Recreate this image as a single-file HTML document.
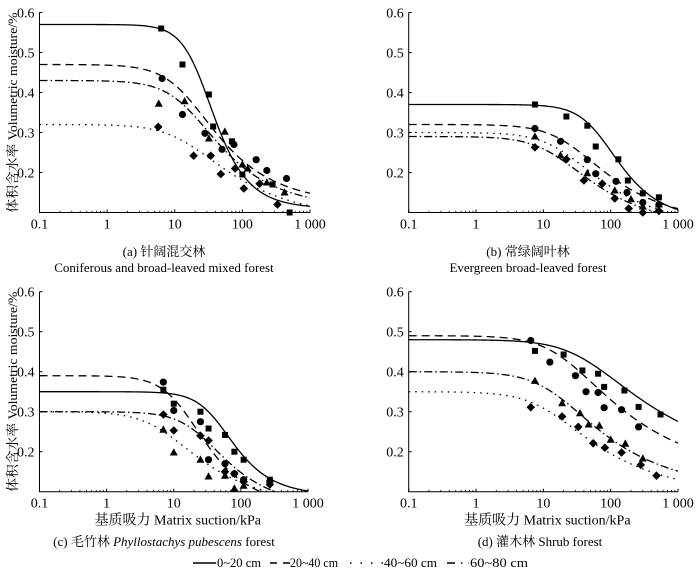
<!DOCTYPE html>
<html><head><meta charset="utf-8">
<style>
html,body{margin:0;padding:0;background:#fff;}
svg{display:block;}
svg text{font-family:"Liberation Serif","Noto Serif CJK SC",serif;}
</style></head>
<body>
<svg id="chart" width="700" height="569" viewBox="0 0 700 569" xmlns="http://www.w3.org/2000/svg">
<g id="panels"></g>
<g font-size="13">
  <line x1="193" y1="563" x2="216" y2="563" stroke="#000" stroke-width="1.4"/>
  <text x="217" y="567" textLength="44" lengthAdjust="spacingAndGlyphs">0~20 cm</text>
  <line x1="270" y1="563" x2="290" y2="563" stroke="#000" stroke-width="1.4" stroke-dasharray="7,6"/>
  <text x="290" y="567" textLength="48" lengthAdjust="spacingAndGlyphs">20~40 cm</text>
  <line x1="350" y1="563" x2="383" y2="563" stroke="#000" stroke-width="1.4" stroke-dasharray="1.5,9"/>
  <text x="384" y="567" textLength="53" lengthAdjust="spacingAndGlyphs">40~60 cm</text>
  <line x1="447" y1="563" x2="469" y2="563" stroke="#000" stroke-width="1.4" stroke-dasharray="8,6,1.5,6"/>
  <text x="470" y="567" textLength="58" lengthAdjust="spacingAndGlyphs">60~80 cm</text>
</g>
</svg>
<script>
// ---- data ----
const xTickValues = [0.1, 1, 10, 100, 1000];
const xTickLabels = ["0.1", "1", "10", "100", "1 000"];
const yTickValues = [0.2, 0.3, 0.4, 0.5, 0.6];
const yTickLabels = ["0.2", "0.3", "0.4", "0.5", "0.6"];
const seriesNames = ["0-20cm", "20-40cm", "40-60cm", "60-80cm"];

// panel a points [suction kPa, moisture]
const aSquares = [[6.3,0.56],[13,0.47],[32,0.395],[37,0.315],[70,0.278],[100,0.195],[280,0.17],[500,0.10]];
const aCircles = [[6.5,0.435],[13,0.345],[28,0.298],[50,0.258],[75,0.27],[160,0.232],[230,0.205],[450,0.185]];
const aTriangles = [[5.8,0.372],[14,0.378],[32,0.285],[55,0.302],[100,0.22],[120,0.21],[230,0.175],[420,0.15]];
const aDiamonds = [[5.7,0.314],[19,0.242],[34,0.242],[48,0.196],[78,0.21],[105,0.16],[180,0.172],[330,0.12]];
// panel b
const bSquares = [[7.5,0.37],[22,0.34],[45,0.317],[60,0.265],[130,0.233],[180,0.18],[300,0.148],[520,0.138]];
const bCircles = [[7.5,0.31],[18,0.278],[45,0.232],[60,0.197],[120,0.178],[175,0.15],[300,0.125],[520,0.12]];
const bTriangles = [[7.5,0.29],[18,0.243],[45,0.198],[115,0.155],[200,0.133],[300,0.115],[520,0.12]];
const bDiamonds = [[7.5,0.263],[22,0.233],[40,0.18],[75,0.172],[115,0.135],[185,0.11],[300,0.1],[520,0.104]];
// panel c
const cSquares = [[7,0.355],[10,0.32],[25,0.3],[33,0.258],[58,0.242],[80,0.2],[110,0.18],[270,0.13]];
const cCircles = [[7,0.374],[10,0.303],[25,0.275],[33,0.18],[58,0.17],[80,0.145],[110,0.13],[270,0.125]];
const cTriangles = [[7,0.255],[10,0.198],[25,0.18],[33,0.138],[58,0.14],[80,0.108],[110,0.115]];
const cDiamonds = [[7,0.293],[10,0.253],[25,0.24],[33,0.228],[58,0.15],[80,0.145],[110,0.125],[270,0.118]];
// panel d
const dSquares = [[7.5,0.452],[20,0.443],[38,0.403],[65,0.395],[80,0.362],[160,0.353],[260,0.312],[550,0.293]];
const dCircles = [[6.5,0.478],[12.5,0.424],[30,0.39],[43,0.35],[65,0.348],[80,0.31],[145,0.305],[260,0.262]];
const dTriangles = [[7.5,0.377],[19,0.321],[35,0.296],[47,0.268],[68,0.265],[100,0.23],[165,0.22],[300,0.183]];
const dDiamonds = [[6.5,0.311],[19,0.288],[33,0.262],[55,0.221],[82,0.21],[145,0.198],[280,0.167],[480,0.14]];

// fitted curve params [thetaS, thetaR, alpha, n, m] for 0-20,20-40,40-60,60-80
const aCurves = [[0.57,0.11,1/25,2.2,0.545],[0.47,0.12,1/15,1.6,0.375],[0.32,0.08,1/15,1.45,0.31],[0.43,0.11,1/16,1.6,0.375]];
const bCurves = [[0.37,0.08,1/70,1.9,0.47],[0.32,0.07,1/25,1.5,0.333],[0.30,0.06,1/20,1.5,0.333],[0.29,0.06,1/15,1.5,0.333]];
const cCurves = [[0.35,0.09,1/45,2,0.5],[0.39,0.06,1/14,1.8,0.444],[0.30,0.06,1/7,1.5,0.333],[0.30,0.06,1/25,1.7,0.41]];
const dCurves = [[0.48,0.15,1/40,1.3,0.23],[0.49,0.13,1/20,1.4,0.25],[0.35,0.09,1/12,1.4,0.3],[0.40,0.10,1/15,1.4,0.3]];

const NS = "http://www.w3.org/2000/svg";
const root = document.getElementById("panels");
function mk(tag, attrs, parent){
  const e = document.createElementNS(NS, tag);
  for (const k in attrs) e.setAttribute(k, attrs[k]);
  parent.appendChild(e);
  return e;
}
const dashes = ["", "8,5", "1.5,5", "8,3,1.5,3"];

function drawPanel(id, L, R, T, B, pts, curves, showYTitle, showXTitle, cap1, cap1Italic, cap2, capX, capY){
  const g = mk("g", {}, root);
  
  
  const xs = v => L + (Math.log10(v) + 1) / 4 * (R - L);
  const ys = v => B - (v - 0.1) / 0.5 * (B - T);
  const ax = mk("path", {d:`M${L},${T} L${L},${B} L${R},${B}`, fill:"none", stroke:"#000", "stroke-width":1}, g);
  
  
  yTickValues.forEach((v,i)=>{
    const y = ys(v);
    mk("line",{x1:L,y1:y,x2:L+3,y2:y,stroke:"#000","stroke-width":1},g);
    const t = mk("text",{x:L-5,y:y+5,"text-anchor":"end","font-size":14},g);
    t.textContent = yTickLabels[i];
    
    
  });
  xTickValues.forEach((v,i)=>{
    const x = xs(v);
    mk("line",{x1:x,y1:B,x2:x,y2:B-3,stroke:"#000","stroke-width":1},g);
    const t = mk("text",{x:x,y:B+16,"text-anchor":"middle","font-size":14},g);
    t.textContent = xTickLabels[i];
    
    
    if (i < xTickValues.length-1){
      for (let k=2;k<=9;k++){
        const xm = xs(v*k);
        mk("line",{x1:xm,y1:B,x2:xm,y2:B-1.8,stroke:"#000","stroke-width":0.8},g);
      }
    }
  });
  const clipId = "clip-" + id;
  const cp = mk("clipPath",{id:clipId},g);
  mk("rect",{x:L,y:T-10,width:R-L+2,height:B-T+10},cp);
  curves.forEach((p,si)=>{
    let d = "";
    for (let i=0;i<=200;i++){
      const lv = -1 + i/200*4;
      const h = Math.pow(10, lv);
      const th = p[1] + (p[0]-p[1]) / Math.pow(1 + Math.pow(p[2]*h, p[3]), p[4]);
      d += (i? "L":"M") + xs(h).toFixed(2) + "," + ys(th).toFixed(2);
    }
    const path = mk("path",{d:d,fill:"none",stroke:"#000","stroke-width":1.3,"clip-path":`url(#${clipId})`},g);
    if (dashes[si]) path.setAttribute("stroke-dasharray", dashes[si]);
    
    
  });
  pts.forEach((arr,si)=>{
    arr.forEach(pt=>{
      const x = xs(pt[0]), y = ys(pt[1]);
      let m;
      if (si===0) m = mk("rect",{x:x-3,y:y-3,width:6,height:6,fill:"#000"},g);
      else if (si===1) m = mk("circle",{cx:x,cy:y,r:3.6,fill:"#000"},g);
      else if (si===2) m = mk("polygon",{points:`${x},${y-4.3} ${x+4},${y+3} ${x-4},${y+3}`,fill:"#000"},g);
      else m = mk("polygon",{points:`${x},${y-4.3} ${x+4.3},${y} ${x},${y+4.3} ${x-4.3},${y}`,fill:"#000"},g);
      
      
    });
  });
  if (showYTitle){
    const cy = (T+B)/2;
    const t = mk("text",{x:0,y:0,transform:`translate(17,${cy}) rotate(-90)`,"text-anchor":"middle","font-size":13,textLength:200,lengthAdjust:"spacingAndGlyphs"},g);
    t.textContent = "体积含水率 Volumetric moisture/%";
    
    
  }
  if (showXTitle){
    const t = mk("text",{x:(L+R)/2+4,y:B+33,"text-anchor":"middle","font-size":14},g);
    t.textContent = "基质吸力 Matrix suction/kPa";
    
    
  }
  const c = mk("text",{x:capX,y:capY,"text-anchor":"middle","font-size":13},g);
  
  
  c.appendChild(document.createTextNode(cap1));
  if (cap1Italic){
    const it = mk("tspan",{"font-style":"italic"},c);
    it.textContent = cap1Italic[0];
    c.appendChild(document.createTextNode(cap1Italic[1]));
  }
  if (cap2){
    const c2 = mk("text",{x:capX,y:capY+16,"text-anchor":"middle","font-size":13},g);
    c2.textContent = cap2;
    
    
  }
}

drawPanel("a", 39.5, 310, 12.5, 212.5, [aSquares,aCircles,aTriangles,aDiamonds], aCurves, true, false,
  "(a) 针阔混交林", null, "Coniferous and broad-leaved mixed forest", 164, 256);
drawPanel("b", 408.7, 678, 12.5, 212.5, [bSquares,bCircles,bTriangles,bDiamonds], bCurves, false, false,
  "(b) 常绿阔叶林", null, "Evergreen broad-leaved forest", 528, 256);
drawPanel("c", 39.5, 308, 291.7, 491.7, [cSquares,cCircles,cTriangles,cDiamonds], cCurves, true, true,
  "(c) 毛竹林 ", ["Phyllostachys pubescens", " forest"], null, 164, 546);
drawPanel("d", 408.7, 678, 291.7, 491.7, [dSquares,dCircles,dTriangles,dDiamonds], dCurves, false, true,
  "(d) 灌木林 Shrub forest", null, null, 540, 546);
</script>
</body></html>
